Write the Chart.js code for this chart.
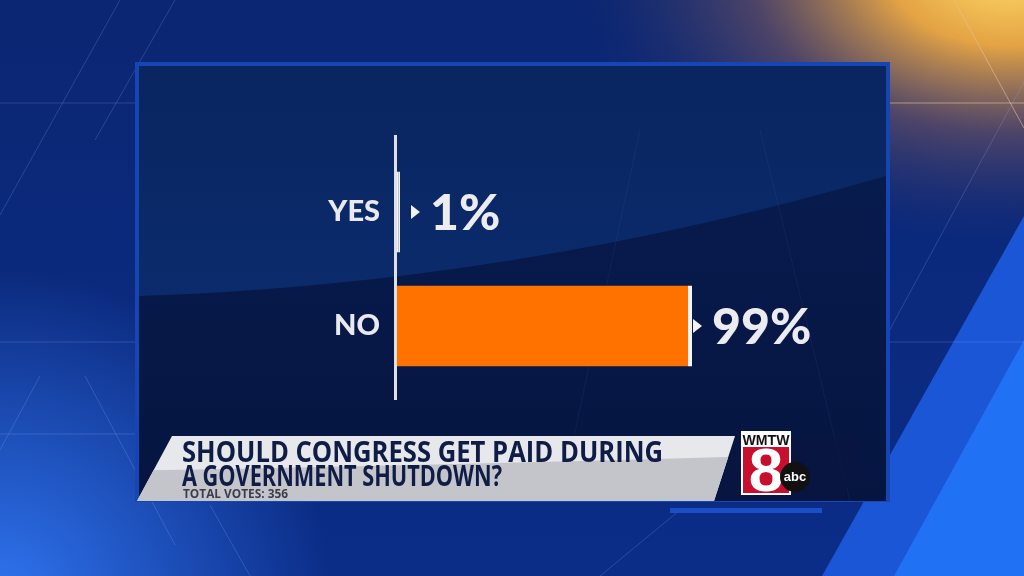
<!DOCTYPE html>
<html>
<head>
<meta charset="utf-8">
<script src="https://cdn.jsdelivr.net/npm/chart.js@4"></script>
<style>
  html, body { margin: 0; padding: 0; background: #0a2266; overflow: hidden; }
  #wrap { width: 1024px; height: 576px; }
</style>
</head>
<body>
<div id="wrap"><canvas id="myChart" width="1024" height="576"></canvas></div>
<script>
// poll data
var answers = ["YES", "NO"];
var share = [1, 99];
var question = ["SHOULD CONGRESS GET PAID DURING", "A GOVERNMENT SHUTDOWN?"];
var totalVotes = 356;

// background, panel and lower third
var backdrop = {
  id: "backdrop",
  beforeDraw: function (chart) {
    var c = chart.ctx;
    c.save();
    var g = c.createLinearGradient(0, 0, 0, 576);
    g.addColorStop(0, "#0b2672");
    g.addColorStop(1, "#0b2d88");
    c.fillStyle = g;
    c.fillRect(0, 0, 1024, 576);

    // glow lower left
    var r = c.createRadialGradient(0, 600, 0, 0, 600, 330);
    r.addColorStop(0, "rgba(50,120,245,0.95)");
    r.addColorStop(1, "rgba(50,120,245,0)");
    c.fillStyle = r;
    c.fillRect(0, 0, 1024, 576);

    // warm light top right (stretched sideways)
    c.save();
    c.translate(1010, -30);
    c.scale(1.6, 1);
    r = c.createRadialGradient(0, 0, 0, 0, 0, 270);
    r.addColorStop(0, "rgba(255,220,104,1)");
    r.addColorStop(0.28, "rgba(240,170,66,0.95)");
    r.addColorStop(0.6, "rgba(100,78,100,0.75)");
    r.addColorStop(1, "rgba(40,50,110,0)");
    c.fillStyle = r;
    c.fillRect(-700, 0, 800, 400);
    c.restore();

    // blue bands lower right
    c.fillStyle = "#1a56d6";
    c.beginPath();
    c.moveTo(1024, 216); c.lineTo(1024, 576); c.lineTo(822, 576); c.closePath();
    c.fill();
    c.fillStyle = "#2071f4";
    c.beginPath();
    c.moveTo(1024, 340); c.lineTo(1024, 576); c.lineTo(894, 576); c.closePath();
    c.fill();

    // thin lines
    c.lineWidth = 1;
    c.strokeStyle = "rgba(150,180,255,0.22)";
    var lines = [
      [0, 103, 1024, 103], [0, 342, 1024, 342], [0, 434, 140, 434],
      [120, 0, 0, 215], [175, 0, 95, 140], [85, 376, 175, 545],
      [40, 376, 0, 450], [954, 0, 1024, 128], [1024, 82, 830, 440],
      [600, 576, 680, 510], [250, 576, 210, 505]
    ];
    lines.forEach(function (l) {
      c.beginPath(); c.moveTo(l[0], l[1]); c.lineTo(l[2], l[3]); c.stroke();
    });
    c.strokeStyle = "rgba(255,200,120,0.45)";
    c.beginPath(); c.moveTo(954, 0); c.lineTo(1024, 128); c.stroke();
    c.beginPath(); c.moveTo(889, 103); c.lineTo(1024, 103); c.stroke();

    // panel
    c.fillStyle = "#1546b4";
    c.fillRect(135, 62, 755, 440);
    g = c.createLinearGradient(0, 66, 0, 500);
    g.addColorStop(0, "#081d52");
    g.addColorStop(1, "#061540");
    c.fillStyle = g;
    c.fillRect(139, 66, 747, 435);
    // lighter sweep in the upper part
    c.save();
    c.beginPath();
    c.rect(139, 66, 747, 435);
    c.clip();
    g = c.createLinearGradient(0, 66, 0, 300);
    g.addColorStop(0, "#0a2560");
    g.addColorStop(1, "#0b2b6c");
    c.fillStyle = g;
    c.beginPath();
    c.moveTo(139, 66);
    c.lineTo(886, 66);
    c.lineTo(886, 176);
    c.quadraticCurveTo(513, 284, 139, 296);
    c.closePath();
    c.fill();
    c.strokeStyle = "rgba(120,150,230,0.08)";
    c.beginPath(); c.moveTo(640, 130); c.lineTo(560, 501); c.stroke();
    c.beginPath(); c.moveTo(760, 130); c.lineTo(850, 501); c.stroke();
    c.restore();
    c.restore();
  },
  afterDraw: function (chart) {
    var c = chart.ctx;
    c.save();
    // lower third
    c.fillStyle = "rgba(8,22,64,0.7)";
    c.beginPath();
    c.moveTo(737, 436); c.lineTo(862, 436); c.lineTo(843, 501); c.lineTo(716, 501);
    c.closePath(); c.fill();
    c.fillStyle = "#1a4fc8";
    c.fillRect(670, 508, 152, 5);

    c.beginPath();
    c.moveTo(172, 436); c.lineTo(735, 436); c.lineTo(714, 501); c.lineTo(137, 501);
    c.closePath();
    c.fillStyle = "#e7e8eb";
    c.fill();
    c.save();
    c.clip();
    c.fillStyle = "#c4c5ca";
    c.beginPath();
    c.moveTo(100, 471); c.quadraticCurveTo(420, 466, 760, 456);
    c.lineTo(760, 505); c.lineTo(100, 505); c.closePath();
    c.fill();
    c.restore();

    c.fillStyle = "#0e1c46";
    c.textBaseline = "alphabetic";
    c.textAlign = "left";
    c.font = "bold 29px 'Open Sans', sans-serif";
    c.fillText(question[0], 182, 462, 481);
    c.fillText(question[1], 182, 486, 320);
    c.fillStyle = "#3b3e4a";
    c.font = "bold 12px 'Open Sans', sans-serif";
    c.fillText("TOTAL VOTES: " + totalVotes, 183, 498, 105);

    // station logo
    c.fillStyle = "#ffffff";
    c.fillRect(741, 431, 50, 64);
    c.fillStyle = "#111111";
    c.font = "bold 15px 'Liberation Sans', sans-serif";
    c.textAlign = "center";
    c.fillText("WMTW", 766, 445, 47);
    c.fillStyle = "#c8102e";
    c.fillRect(743, 447, 46, 46);
    c.fillStyle = "#ffffff";
    c.font = "bold 62px 'Liberation Sans', sans-serif";
    c.fillText("8", 766, 491);
    c.fillStyle = "#111111";
    c.beginPath(); c.arc(795, 477, 15, 0, Math.PI * 2); c.fill();
    c.fillStyle = "#ffffff";
    c.font = "bold 13px 'Liberation Sans', sans-serif";
    c.fillText("abc", 795, 481);
    c.restore();
  }
};

// axis line, arrow marks and percentages
var marks = {
  id: "marks",
  beforeDatasetsDraw: function (chart) {
    var c = chart.ctx, a = chart.chartArea;
    c.save();
    c.fillStyle = "#dfe0e6";
    c.fillRect(a.left - 3, a.top - 20, 3, a.bottom - a.top + 37);
    c.restore();
  },
  afterDatasetsDraw: function (chart) {
    var c = chart.ctx;
    var x0 = chart.scales.x.getPixelForValue(0);
    var meta = chart.getDatasetMeta(0);
    c.save();
    meta.data.forEach(function (bar, i) {
      var tx = Math.max(bar.x + 1, x0 + 14);
      c.fillStyle = "#f2f2f5";
      c.beginPath();
      c.moveTo(tx, bar.y - 7);
      c.lineTo(tx + 9, bar.y);
      c.lineTo(tx, bar.y + 7);
      c.closePath();
      c.fill();
      c.fillStyle = "#ececf0";
      c.font = "900 50px Lato, sans-serif";
      c.textAlign = "left";
      c.textBaseline = "middle";
      c.fillText(share[i] + "%", tx + 19, bar.y + 2);
    });
    c.restore();
  }
};

var ctx = document.getElementById("myChart");
var myChart = new Chart(ctx, {
  type: "bar",
  data: {
    labels: answers,
    datasets: [
      {
        label: "Share of votes",
        data: share,
        backgroundColor: ["#f2f2f5", "#ff7200"],
        borderColor: "#f4f4f6",
        borderWidth: { top: 0, right: 4, bottom: 0, left: 0 },
        borderSkipped: "start",
        categoryPercentage: 1,
        barPercentage: 0.71,
      },
    ],
  },
  options: {
    indexAxis: "y",
    responsive: false,
    animation: false,
    layout: {
      padding: { top: 155, bottom: 193, left: 267, right: 329 },
    },
    scales: {
      x: {
        display: false,
        min: 0,
        max: 100,
      },
      y: {
        display: true,
        grid: { display: false, drawTicks: false },
        border: { display: false },
        ticks: {
          color: "#e9e9ef",
          padding: 17,
          font: { family: "Lato", weight: "900", size: 29 },
        },
        afterFit: function (scale) {
          scale.width = 130;
        },
      },
    },
    plugins: {
      legend: { display: false },
      tooltip: { enabled: false },
    },
  },
  plugins: [backdrop, marks],
});
</script>
</body>
</html>
